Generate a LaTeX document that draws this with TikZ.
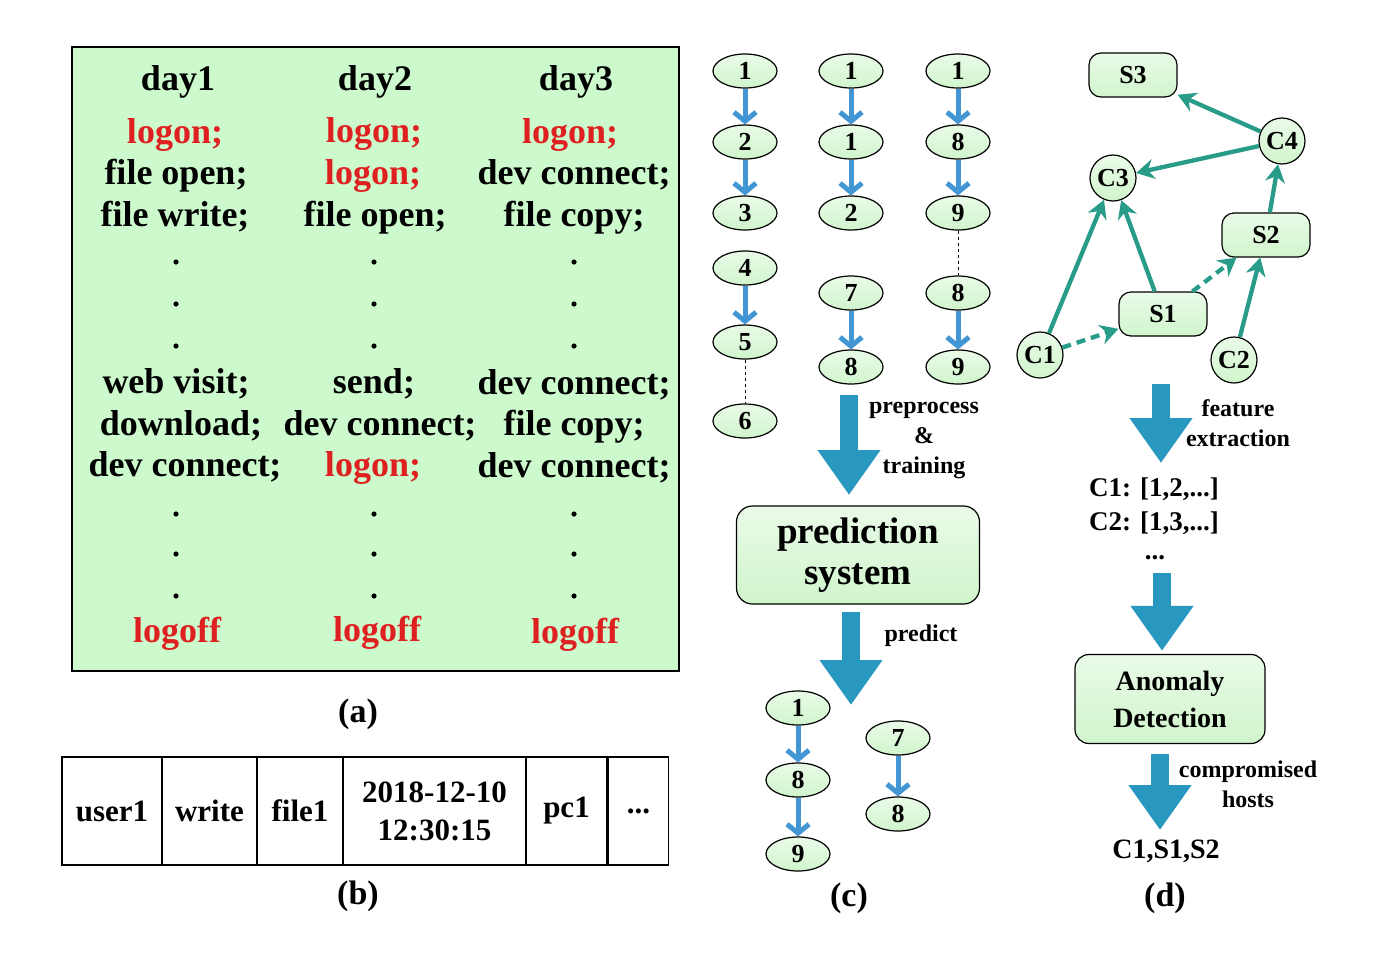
\documentclass[tikz,border=0pt]{standalone}
\usepackage{fontspec}
\setmainfont{Liberation Serif}
\usetikzlibrary{arrows.meta,shapes.geometric}

\definecolor{mint}{RGB}{204,250,204}
\definecolor{nodegreen}{RGB}{208,245,204}
\definecolor{logred}{RGB}{222,32,32}
\definecolor{chainblue}{RGB}{66,150,212}
\definecolor{bigblue}{RGB}{40,152,192}
\definecolor{edgeteal}{RGB}{40,156,136}

\tikzset{
  evt/.style={font=\fontsize{36}{40}\selectfont\bfseries, text height=33pt, text depth=8pt, inner sep=0pt},
  logon/.style={evt, text=logred},
  cell/.style={draw, line width=1.6pt, minimum height=108pt, inner sep=0pt, align=center,
    font=\fontsize{31}{38}\selectfont\bfseries},
  caption/.style={font=\fontsize{34}{36}\selectfont\bfseries},
  greenfill/.style={top color=nodegreen!45!white, bottom color=nodegreen},
  chainnode/.style={ellipse, draw, line width=1.2pt, minimum width=64pt, minimum height=34pt,
    inner sep=0pt, greenfill, font=\fontsize{26}{28}\selectfont\bfseries},
  chainarrow/.style={draw=chainblue, line width=5pt, -{Straight Barb[length=9pt,width=22pt]}},
  bigarrow/.style={draw=bigblue, line width=18pt, -{Triangle[width=60pt,length=45pt]}},
  bigbox/.style={draw, line width=1.2pt, rounded corners=16pt, greenfill, align=center},
  steplbl/.style={font=\fontsize{24}{30}\selectfont\bfseries, align=center},
  host/.style={circle, draw, line width=1.2pt, minimum size=46pt, inner sep=0pt, greenfill,
    font=\fontsize{26}{28}\selectfont\bfseries},
  server/.style={draw, line width=1.2pt, rounded corners=12pt, minimum width=88pt, minimum height=44pt,
    inner sep=0pt, greenfill, font=\fontsize{26}{28}\selectfont\bfseries},
  link/.style={draw=edgeteal, line width=4.3pt, -{Stealth[length=18pt,width=20pt]}},
  maybe/.style={link, dash pattern=on 9pt off 6pt}
}

\begin{document}
\begin{tikzpicture}[x=1pt,y=-1pt]
	\useasboundingbox (0,0) rectangle (1376,956);
	
	% (a) log of three days
	\draw[fill=mint, line width=1.5pt] (72,47) rectangle (679,671);
	
	\node[evt] (day1) at (178,78) {day1};
	\node[logon] (d1a) at (175,131) {logon;};
	\node[evt] (d1b) at (176,172) {file open;};
	\node[evt] (d1c) at (175,214) {file write;};
	\node[evt] (d1d) at (176,381) {web visit;};
	\node[evt] (d1e) at (181,423) {download;};
	\node[evt] (d1f) at (185,464) {dev connect;};
	\node[logon] (d1g) at (177,630) {logoff};
	
	\node[evt] (day2) at (375,78) {day2};
	\node[logon] (d2a) at (374,130) {logon;};
	\node[logon] (d2b) at (373,172) {logon;};
	\node[evt] (d2c) at (375,214) {file open;};
	\node[evt] (d2d) at (374,381) {send;};
	\node[evt] (d2e) at (380,423) {dev connect;};
	\node[logon] (d2f) at (373,464) {logon;};
	\node[logon] (d2g) at (377,629) {logoff};
	
	\node[evt] (day3) at (576,78) {day3};
	\node[logon] (d3a) at (570,131) {logon;};
	\node[evt] (d3b) at (574,172) {dev connect;};
	\node[evt] (d3c) at (574,214) {file copy;};
	\node[evt] (d3d) at (574,382) {dev connect;};
	\node[evt] (d3e) at (574,423) {file copy;};
	\node[evt] (d3f) at (574,465) {dev connect;};
	\node[logon] (d3g) at (575,631) {logoff};
	
	\foreach \x in {176,374,574}
	\foreach \y in {262,304,346,514,554,596}
	\fill (\x,\y) circle (2.6pt);
	
	\node[caption] (capa) at (358,714) {(a)};
	
	% (b) one record
	\node[cell, minimum width=100pt] (user) at (112,811) {user1};
	\node[cell, minimum width=95pt] (act) at (209.5,811) {write};
	\node[cell, minimum width=86pt] (obj) at (300,811) {file1};
	\node[cell, minimum width=183pt] (time) at (434.5,811) {2018-12-10\\12:30:15};
	\node[cell, minimum width=81pt] (pc) at (566.5,811) {pc1};
	\node[cell, minimum width=60pt] (more) at (638.5,811) {...};
	\node[caption] (capb) at (358,896) {(b)};
	
	% (c) sequences and prediction
	\node[chainnode] (s1a) at (745,71) {1};
	\node[chainnode] (s1b) at (745,142) {2};
	\node[chainnode] (s1c) at (745,213) {3};
	\node[chainnode] (s1d) at (745,268) {4};
	\node[chainnode] (s1e) at (745,342) {5};
	\node[chainnode] (s1f) at (745,421) {6};
	
	\node[chainnode] (s2a) at (851,71) {1};
	\node[chainnode] (s2b) at (851,142) {1};
	\node[chainnode] (s2c) at (851,213) {2};
	\node[chainnode] (s2d) at (851,293) {7};
	\node[chainnode] (s2e) at (851,367) {8};
	
	\node[chainnode] (s3a) at (958,71) {1};
	\node[chainnode] (s3b) at (958,142) {8};
	\node[chainnode] (s3c) at (958,213) {9};
	\node[chainnode] (s3d) at (958,293) {8};
	\node[chainnode] (s3e) at (958,367) {9};
	
	\foreach \a/\b in {s1a/s1b,s1b/s1c,s1d/s1e,s2a/s2b,s2b/s2c,s2d/s2e,s3a/s3b,s3b/s3c,s3d/s3e}
	\draw[chainarrow] (\a) -- (\b);
	\draw[dashed, line width=1pt] (s1e) -- (s1f);
	\draw[dashed, line width=1pt] (s3c) -- (s3d);
	
	\coordinate (train) at (849,395);
	\node[bigbox, minimum width=243pt, minimum height=98pt, font=\fontsize{37}{41}\selectfont\bfseries] (pred) at (858,555) {prediction\\system};
	\draw[bigarrow, shorten >=11pt] (train) -- (849,506);
	\node[steplbl] (train lbl) at (924,440) {preprocess\\\&\\training};
	
	\coordinate (out) at (851,705);
	\draw[bigarrow, shorten <=7pt] (pred.south -| out) -- (out);
	\node[steplbl] (pred lbl) at (921,636) {predict};
	
	\node[chainnode] (p1a) at (798,708) {1};
	\node[chainnode] (p1b) at (798,780) {8};
	\node[chainnode] (p1c) at (798,854) {9};
	\node[chainnode] (p2a) at (898,738) {7};
	\node[chainnode] (p2b) at (898,814) {8};
	\foreach \a/\b in {p1a/p1b,p1b/p1c,p2a/p2b}
	\draw[chainarrow] (\a) -- (\b);
	
	\node[caption] (capc) at (849,898) {(c)};
	
	% (d) host graph and detection
	\node[server] (S3) at (1133,75) {S3};
	\node[host] (C4) at (1282,141) {C4};
	\node[host] (C3) at (1113,178) {C3};
	\node[server] (S2) at (1266,235) {S2};
	\node[server] (S1) at (1163,314) {S1};
	\node[host] (C1) at (1040,355) {C1};
	\node[host] (C2) at (1234,360) {C2};
	
	\draw[link] (C4) -- (S3);
	\draw[link] (C4) -- (C3);
	\draw[link] (S2) -- (C4);
	\draw[link] (C2) -- (S2);
	\draw[link] (C1) -- (C3);
	\draw[link] (S1) -- (C3);
	\draw[maybe] (C1) -- (S1);
	\draw[maybe] (S1) -- (S2);
	
	\coordinate (feat top) at (1161,384);
	\coordinate (feat tip) at (1161,463);
	\draw[bigarrow] (feat top) -- (feat tip);
	\node[steplbl] (feat lbl) at (1238,423) {feature\\extraction};
	
	\node[font=\fontsize{27}{34}\selectfont\bfseries, align=left] (vec) at (1154,506) {C1: [1,2,...]\\C2: [1,3,...]};
	\node[font=\fontsize{27}{34}\selectfont\bfseries] (vdots) at (1155,558) {...};
	
	\node[bigbox, rounded corners=14pt, minimum width=190pt, minimum height=89pt, font=\fontsize{28}{37}\selectfont\bfseries] (anom) at (1170,699) {Anomaly\\Detection};
	\coordinate (det top) at (1162,573);
	\draw[bigarrow, shorten >=3pt] (det top) -- (det top |- anom.north);
	
	\node[font=\fontsize{28}{30}\selectfont\bfseries] (hosts) at (1166,851) {C1,S1,S2};
	\draw[bigarrow, shorten <=10pt, shorten >=6pt] (anom.south -| hosts) ++(-6,0) coordinate (c5) -- (c5 |- hosts.north);
	\node[steplbl] (host lbl) at (1248,784) {compromised\\hosts};
	
	\node[caption] (capd) at (1165,898) {(d)};
\end{tikzpicture}
\end{document}
